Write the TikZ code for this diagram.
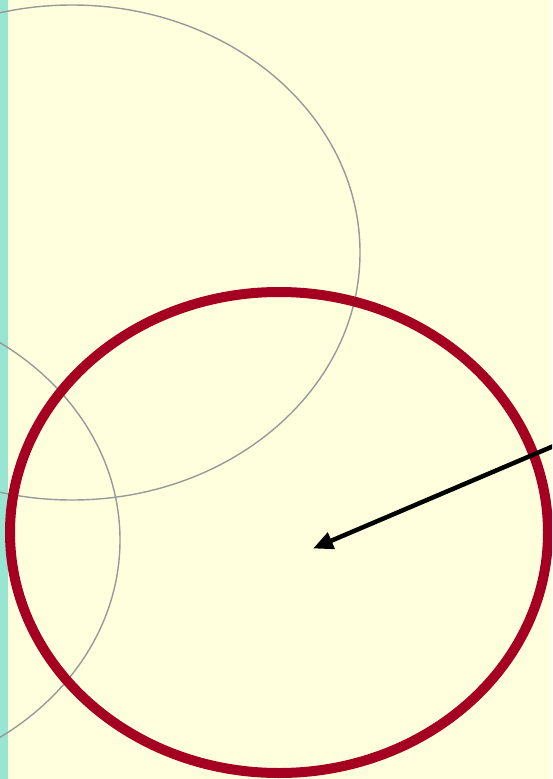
\documentclass[tikz,border=0pt]{standalone}
\usepackage{tikz}
\usetikzlibrary{arrows.meta}

\definecolor{paper}{HTML}{FFFFDD}
\definecolor{strip}{HTML}{99E5D3}
\definecolor{ringred}{HTML}{A50021}
\definecolor{guidegray}{HTML}{999999}

\begin{document}
\begin{tikzpicture}[
    x=1pt, y=-1pt,
    guide/.style={draw=guidegray, line width=1.4pt},
    ring/.style={draw=ringred, line width=10pt},
    pointer/.style={draw=black, line width=4.5pt, -{Triangle[length=20pt, width=17pt]}},
]

% page and strip
\useasboundingbox (0,0) rectangle (552,779);
\fill[paper] (0,0) rectangle (552,779);
\fill[strip] (0,0) rectangle (8,779);
\clip (0,0) rectangle (552,779);

% thin ellipses
\draw[guide] (72,252.5) ellipse [x radius=288, y radius=247.5];
\draw[guide] (-165,540) ellipse [x radius=285, y radius=242];

% thick ellipse
\coordinate (ringc) at (279,532.5);
\draw[ring] (ringc) ellipse [x radius=269, y radius=240.5];

% arrow
\coordinate (from) at (556,445);
\coordinate (tip) at (313,548.5);
\draw[pointer] (from) -- (tip);

\end{tikzpicture}
\end{document}
